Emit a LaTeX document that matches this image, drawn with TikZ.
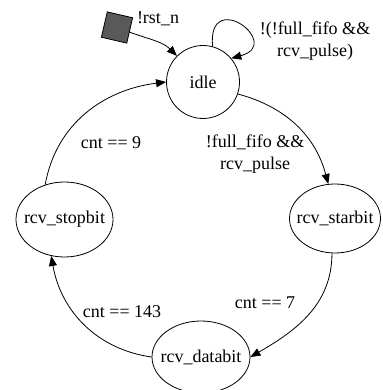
\documentclass[tikz,border=0pt]{standalone}
\usepackage{fontspec}
\setmainfont{Liberation Serif}
\usetikzlibrary{arrows.meta, positioning, shapes.geometric}

\begin{document}
\begin{tikzpicture}[x=1pt, y=-1pt, line width=0.8pt,
        font=\fontsize{18}{22}\selectfont,
        >={Triangle[length=10pt, width=8pt]},
        state/.style={draw, ellipse, inner xsep=-14pt, inner ysep=0pt,
                      minimum width=97pt, minimum height=72pt}]
        \useasboundingbox (0,0) rectangle (382,390);

        \node[draw, fill=black!65, minimum size=26pt, inner sep=0pt, rotate=-13] (rst) at (117,27.5) {};
        \node[draw, circle, minimum size=73pt, inner sep=0pt] (idle) at (203,82) {idle};
        \node[state, minimum width=91pt, minimum height=69pt] (starbit) at (335,218.5) {rcv\_starbit};
        \node[state, minimum height=75pt] (stopbit) at (64.5,219.5) {rcv\_stopbit};
        \node[state, minimum width=98pt] (databit) at (201,357) {rcv\_databit};

        % labels
        \node (lrst) at (158,19) {!rst\_n};
        \node[align=center] (lloop) at (315,41) {!(!full\_fifo \&\&\\rcv\_pulse)};
        \node[align=center] (lstart) at (255,154) {!full\_fifo \&\&\\rcv\_pulse};
        \node (lcnt7) at (265,303) {cnt == 7};
        \node (lcnt143) at (122,312) {cnt == 143};
        \node (lcnt9) at (111,143) {cnt == 9};

        \draw[->] (rst) to[out=-15, in=135] (idle);
        \draw[->] (idle.75) to[out=95, in=15, out distance=60pt, in distance=55pt] (idle.40);
        \draw[->] (idle.-19) to[out=-15, in=105] (starbit.101);
        \draw[->] (starbit.-95) to[out=-90, in=30] (databit.east);
        \draw[->] (databit.west) to[out=172, in=-80] (stopbit.-110);
        \draw[->] (stopbit.119) to[out=80, in=187] (idle.west);
\end{tikzpicture}
\end{document}
